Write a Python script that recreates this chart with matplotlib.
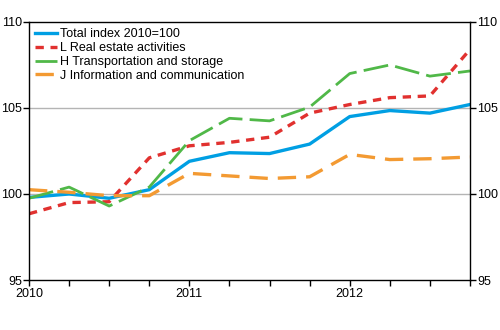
import numpy as np
import matplotlib.pyplot as plt

plt.rcParams['font.family'] = ['Liberation Sans', 'DejaVu Sans']

# Quarterly index values, 2010Q1 - 2012Q4 (2010=100)
quarters = np.arange(12)
total = [99.8, 100.0, 99.75, 100.25, 101.9, 102.4, 102.35, 102.9, 104.5, 104.85, 104.7, 105.2]
real_estate = [98.85, 99.5, 99.55, 102.1, 102.8, 103.0, 103.3, 104.7, 105.2, 105.6, 105.7, 108.4]
transport = [99.75, 100.4, 99.3, 100.4, 103.1, 104.4, 104.25, 105.05, 107.0, 107.5, 106.85, 107.15]
info = [100.25, 100.1, 99.9, 99.9, 101.2, 101.05, 100.9, 101.0, 102.3, 102.0, 102.05, 102.15]
year_labels = ['2010', '2011', '2012']

fig = plt.figure(figsize=(5, 3.3), dpi=100)
ax = fig.add_axes([0.058, 0.1515, 0.882, 0.782])

ax.plot(quarters, total, color='#009fe3', lw=2.4, label='Total index 2010=100')
ax.plot(quarters, real_estate, color='#e1312f', lw=2.4, dashes=(2.5, 2.0),
        label='L Real estate activities')
ax.plot(quarters, transport, color='#50b848', lw=2.0, dashes=(9, 2.6),
        label='H Transportation and storage')
ax.plot(quarters, info, color='#f39a32', lw=2.4, dashes=(5.5, 3.0),
        label='J Information and communication')

ax.set_xlim(0, 11)
ax.set_ylim(95, 110)
ax.set_yticks([95, 100, 105, 110])
ax.set_xticks(quarters)
ax.set_xticklabels([year_labels[i // 4] if i % 4 == 0 else '' for i in quarters])
ax.tick_params(axis='x', direction='out', length=4, width=1, labelsize=9, pad=2)
ax.tick_params(axis='y', direction='out', length=4, width=1, labelsize=9, pad=1,
               left=True, right=True, labelleft=True, labelright=True)

for y in (100, 105):
    ax.axhline(y, color='#b4b4b4', lw=1, zorder=0)
for side in ax.spines.values():
    side.set_linewidth(1)
    side.set_color('black')

ax.legend(loc='upper left', frameon=False, fontsize=9, handlelength=1.7,
          handletextpad=0.25, labelspacing=0.15, borderaxespad=0.1,
          bbox_to_anchor=(0.0, 1.0))

fig.savefig('out.png', dpi=100)
